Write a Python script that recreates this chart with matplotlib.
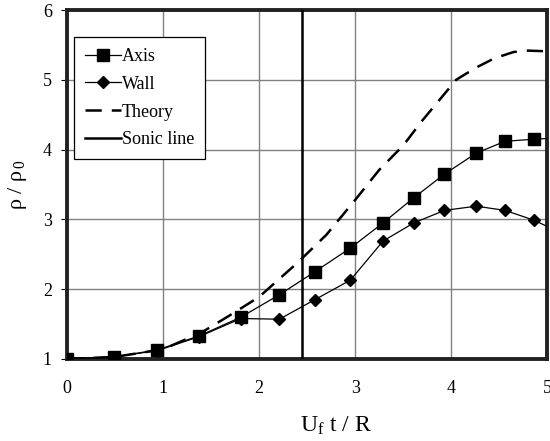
import matplotlib
matplotlib.use("Agg")
import matplotlib.pyplot as plt
from matplotlib.lines import Line2D

plt.rcParams['font.family'] = ['Liberation Serif', 'DejaVu Serif']
plt.rcParams['mathtext.fontset'] = 'custom'
plt.rcParams['mathtext.rm'] = 'Liberation Serif'
plt.rcParams['mathtext.it'] = 'Liberation Serif'

# measured density ratio on the axis and at the wall
t_meas = [0.0, 0.49, 0.94, 1.375, 1.81, 2.21, 2.58, 2.95, 3.29, 3.61, 3.93, 4.26, 4.56, 4.86, 5.0]
rho_axis = [1.0, 1.03, 1.13, 1.33, 1.60, 1.92, 2.25, 2.59, 2.95, 3.31, 3.65, 3.95, 4.12, 4.15, 4.16]
rho_wall = [1.0, 1.03, 1.12, 1.32, 1.58, 1.57, 1.85, 2.13, 2.69, 2.95, 3.13, 3.19, 3.13, 2.99, 2.90]

# theoretical curve
t_theory = [0.0, 0.5, 1.0, 1.4, 1.7, 2.0, 2.4, 2.7, 3.0, 3.25, 3.5, 3.7, 3.9, 4.05,
            4.25, 4.45, 4.65, 4.8, 5.0]
rho_theory = [1.0, 1.03, 1.14, 1.38, 1.63, 1.89, 2.38, 2.78, 3.28, 3.71, 4.06, 4.42,
              4.75, 5.0, 5.17, 5.31, 5.40, 5.42, 5.41]

t_sonic = 2.45

dashes = (0, (6.5, 4))

fig = plt.figure(figsize=(5.5, 4.41), dpi=100)
ax = fig.add_axes([0.122, 0.186, 0.873, 0.791])

ax.grid(True, color='#808080', linewidth=1.0)
ax.set_axisbelow(True)

marks = list(range(len(t_meas) - 1))
ax.plot(t_theory, rho_theory, color='black', linewidth=1.8, linestyle=dashes, zorder=3)
ax.plot(t_meas, rho_axis, color='black', linewidth=0.9, marker='s', markersize=8,
        markevery=marks, zorder=4)
ax.plot(t_meas, rho_wall, color='black', linewidth=0.9, marker='D', markersize=5.8,
        markevery=marks, zorder=5)
ax.axvline(t_sonic, color='black', linewidth=1.8, zorder=3)

ax.set_xlim(0, 5)
ax.set_ylim(1, 6)
ax.set_xticks(range(0, 6))
ax.set_yticks(range(1, 7))
ax.tick_params(axis='x', length=0, pad=15, labelsize=13)
ax.tick_params(axis='y', length=4, direction='out', pad=7, labelsize=13)

for side in ['left', 'bottom', 'top', 'right']:
    ax.spines[side].set_linewidth(2.8)
    ax.spines[side].set_color('#222222')

ax.set_xlabel(r'U$_\mathrm{f}$ t / R', fontsize=17)
ax.xaxis.set_label_coords(0.56, -0.16)
ax.set_ylabel(r'$\rho$ / $\rho_{\,0}$', fontsize=16, labelpad=10)

handles = [
    Line2D([], [], color='black', linewidth=0.9, marker='s', markersize=8),
    Line2D([], [], color='black', linewidth=0.9, marker='D', markersize=5.8),
    Line2D([], [], color='black', linewidth=1.8, linestyle=dashes),
    Line2D([], [], color='black', linewidth=1.8),
]
leg = ax.legend(handles, ['Axis', 'Wall', 'Theory', 'Sonic line'],
                loc='upper left', bbox_to_anchor=(0.015, 0.923), borderaxespad=0,
                fontsize=13, handlelength=2.0, handletextpad=0.05, labelspacing=0.6,
                fancybox=False, framealpha=1, edgecolor='black', borderpad=0.6)
leg.get_frame().set_linewidth(0.9)

fig.savefig('out.png', dpi=100)
